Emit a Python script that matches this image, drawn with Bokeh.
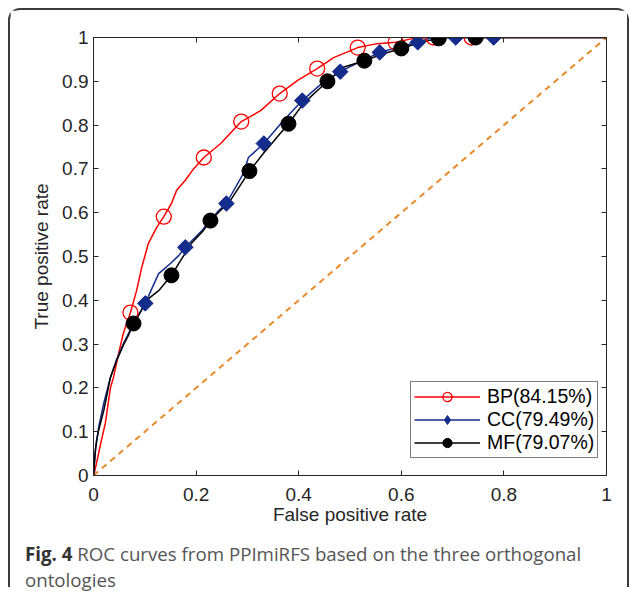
from bokeh.plotting import figure
from bokeh.models import (Range1d, LinearAxis, FixedTicker, CustomJSTickFormatter,
                          Legend, LegendItem, Div)
from bokeh.layouts import column
from bokeh.embed import file_html
from bokeh.resources import INLINE
import math

# ---------------- data ----------------
x_ticks = [0, 0.2, 0.4, 0.6, 0.8, 1.0]
y_ticks = [0, 0.1, 0.2, 0.3, 0.4, 0.5, 0.6, 0.7, 0.8, 0.9, 1.0]

bp_label = "BP(84.15%)"
cc_label = "CC(79.49%)"
mf_label = "MF(79.07%)"

bp_x = [0, 0.004, 0.014, 0.023, 0.033, 0.039, 0.049, 0.058, 0.068, 0.072, 0.084, 0.094,
        0.107, 0.123, 0.137, 0.152, 0.162, 0.179, 0.195, 0.215, 0.248, 0.288, 0.326,
        0.363, 0.398, 0.436, 0.468, 0.515, 0.553, 0.589, 0.624, 0.66, 0.737, 1.0]
bp_y = [0, 0.018, 0.073, 0.119, 0.200, 0.224, 0.279, 0.324, 0.358, 0.372, 0.422, 0.475,
        0.530, 0.566, 0.591, 0.621, 0.651, 0.674, 0.700, 0.726, 0.758, 0.808, 0.833,
        0.872, 0.902, 0.929, 0.954, 0.977, 0.986, 0.989, 0.998, 1.0, 1.0, 1.0]

cc_x = [0, 0.004, 0.010, 0.020, 0.033, 0.045, 0.058, 0.075, 0.090, 0.101, 0.115, 0.127,
        0.150, 0.166, 0.179, 0.211, 0.244, 0.259, 0.292, 0.302, 0.332, 0.370, 0.407,
        0.440, 0.481, 0.520, 0.558, 0.600, 0.632, 0.660, 0.706, 0.780, 1.0]
cc_y = [0, 0.060, 0.110, 0.165, 0.224, 0.265, 0.300, 0.340, 0.370, 0.393, 0.430, 0.461,
        0.484, 0.502, 0.521, 0.559, 0.605, 0.621, 0.689, 0.726, 0.758, 0.810, 0.856,
        0.890, 0.922, 0.945, 0.966, 0.980, 0.989, 1.0, 1.0, 1.0, 1.0]

mf_x = [0, 0.003, 0.006, 0.010, 0.020, 0.033, 0.045, 0.058, 0.068, 0.078, 0.090, 0.103,
        0.127, 0.152, 0.170, 0.191, 0.214, 0.228, 0.267, 0.304, 0.331, 0.380, 0.409,
        0.456, 0.487, 0.528, 0.565, 0.600, 0.637, 0.673, 0.690, 0.745, 1.0]
mf_y = [0, 0.050, 0.080, 0.103, 0.148, 0.224, 0.262, 0.297, 0.320, 0.347, 0.370, 0.400,
        0.422, 0.457, 0.491, 0.530, 0.559, 0.582, 0.628, 0.695, 0.735, 0.803, 0.849,
        0.900, 0.932, 0.947, 0.963, 0.975, 0.989, 0.998, 1.0, 1.0, 1.0]

bp_mx = [0.072, 0.137, 0.215, 0.288, 0.363, 0.436, 0.515, 0.589, 0.663, 0.737]
bp_my = [0.372, 0.591, 0.726, 0.808, 0.872, 0.929, 0.977, 0.989, 1.0, 1.0]
cc_mx = [0.101, 0.179, 0.259, 0.332, 0.407, 0.481, 0.558, 0.632, 0.706, 0.780]
cc_my = [0.393, 0.521, 0.621, 0.758, 0.856, 0.922, 0.966, 0.989, 1.0, 1.0]
mf_mx = [0.078, 0.152, 0.228, 0.304, 0.380, 0.456, 0.528, 0.600, 0.673, 0.745]
mf_my = [0.347, 0.457, 0.582, 0.695, 0.803, 0.900, 0.947, 0.975, 0.998, 1.0]

diag_x = [0, 1]
diag_y = [0, 1]

x_label = "False positive rate"
y_label = "True positive rate"
caption_bold = "Fig. 4"
caption_rest = "ROC curves from PPImiRFS based on the three orthogonal<br>ontologies"

# ---------------- styles ----------------
RED = "#FF0000"
BLUE = "#142C8C"
BLACK = "#000000"
ORANGE = "#E8892A"
AXIS = "#262626"
FONT = "Liberation Sans"
BORDER = "2px solid #3c3c3c"

p = figure(frame_width=513, frame_height=438,
           x_range=Range1d(0, 1), y_range=Range1d(0, 1),
           output_backend="svg", toolbar_location=None,
           min_border_left=83, min_border_right=21,
           min_border_top=27, min_border_bottom=66,
           background_fill_color="white", border_fill_color="white")
p.grid.visible = False
p.outline_line_color = AXIS
p.outline_line_width = 1

fmt = CustomJSTickFormatter(code="return (Math.round(tick*10)/10).toString();")
blank = CustomJSTickFormatter(code="return '';")

for ax, ticks in ((p.xaxis[0], x_ticks), (p.yaxis[0], y_ticks)):
    ax.ticker = FixedTicker(ticks=ticks)
    ax.formatter = fmt
    ax.major_tick_in = 5
    ax.major_tick_out = 0
    ax.minor_tick_in = 0
    ax.minor_tick_out = 0
    ax.axis_line_color = AXIS
    ax.major_tick_line_color = AXIS
    ax.major_label_text_font = FONT
    ax.major_label_text_font_size = "19px"
    ax.major_label_text_color = AXIS
    ax.axis_label_text_font = FONT
    ax.axis_label_text_font_size = "19px"
    ax.axis_label_text_font_style = "normal"
    ax.axis_label_text_color = AXIS

p.xaxis.axis_label = x_label
p.yaxis.axis_label = y_label
p.xaxis.major_label_standoff = 12
p.xaxis.axis_label_standoff = 0
p.yaxis.major_label_standoff = 5
p.yaxis.axis_label_standoff = 7

top = LinearAxis(ticker=FixedTicker(ticks=x_ticks), formatter=blank,
                 major_label_standoff=0, major_tick_in=5, major_tick_out=0,
                 minor_tick_in=0, minor_tick_out=0, axis_line_color=AXIS,
                 major_tick_line_color=AXIS)
right = LinearAxis(ticker=FixedTicker(ticks=y_ticks), formatter=blank,
                   major_label_standoff=0, major_tick_in=5, major_tick_out=0,
                   minor_tick_in=0, minor_tick_out=0, axis_line_color=AXIS,
                   major_tick_line_color=AXIS)
p.add_layout(top, "above")
p.add_layout(right, "right")

p.line(diag_x, diag_y, line_color=ORANGE, line_width=2, line_dash="6 5")

r_bp = p.line(bp_x, bp_y, line_color=RED, line_width=1.5)
r_cc = p.line(cc_x, cc_y, line_color=BLUE, line_width=1.5)
r_mf = p.line(mf_x, mf_y, line_color=BLACK, line_width=1.5)

m_bp = p.scatter(bp_mx, bp_my, marker="circle", size=15, fill_color=None,
                 line_color=RED, line_width=1.3)
# diamond glyph (used by the legend), covered by the 45-degree squares below
m_cc = p.scatter(cc_mx, cc_my, marker="diamond", size=13,
                 fill_color=BLUE, line_color=BLUE, line_width=1)
p.scatter(cc_mx, cc_my, marker="square", angle=math.pi / 4, size=11,
          fill_color=BLUE, line_color=BLUE, line_width=1)
m_mf = p.scatter(mf_mx, mf_my, marker="circle", size=15, fill_color=BLACK,
                 line_color=BLACK, line_width=1)

legend = Legend(items=[LegendItem(label=bp_label, renderers=[r_bp, m_bp]),
                       LegendItem(label=cc_label, renderers=[r_cc, m_cc]),
                       LegendItem(label=mf_label, renderers=[r_mf, m_mf])],
                location=(317, 17), padding=3, spacing=0,
                glyph_width=66, glyph_height=23, label_standoff=7,
                label_height=20,
                label_text_font=FONT, label_text_font_size="19.5px",
                label_text_color=BLACK, border_line_color=BLACK,
                border_line_width=1, background_fill_color="white",
                background_fill_alpha=1, margin=0)
p.add_layout(legend)

cap = Div(text=f'<span style="font-weight:bold;color:#333333">{caption_bold}</span> {caption_rest}',
          width=617, height=46, margin=0,
          styles={"font-family": "'Open Sans'", "font-size": "18.7px", "color": "#555555",
                  "line-height": "25.5px", "padding-left": "15px"})

layout = column(p, cap, margin=(8, 0, 0, 8),
                styles={"border-top": BORDER, "border-left": BORDER, "border-right": BORDER,
                        "border-top-left-radius": "12px",
                        "border-top-right-radius": "12px",
                        "background-color": "white"})

open("out.html", "w").write(file_html(layout, INLINE))
